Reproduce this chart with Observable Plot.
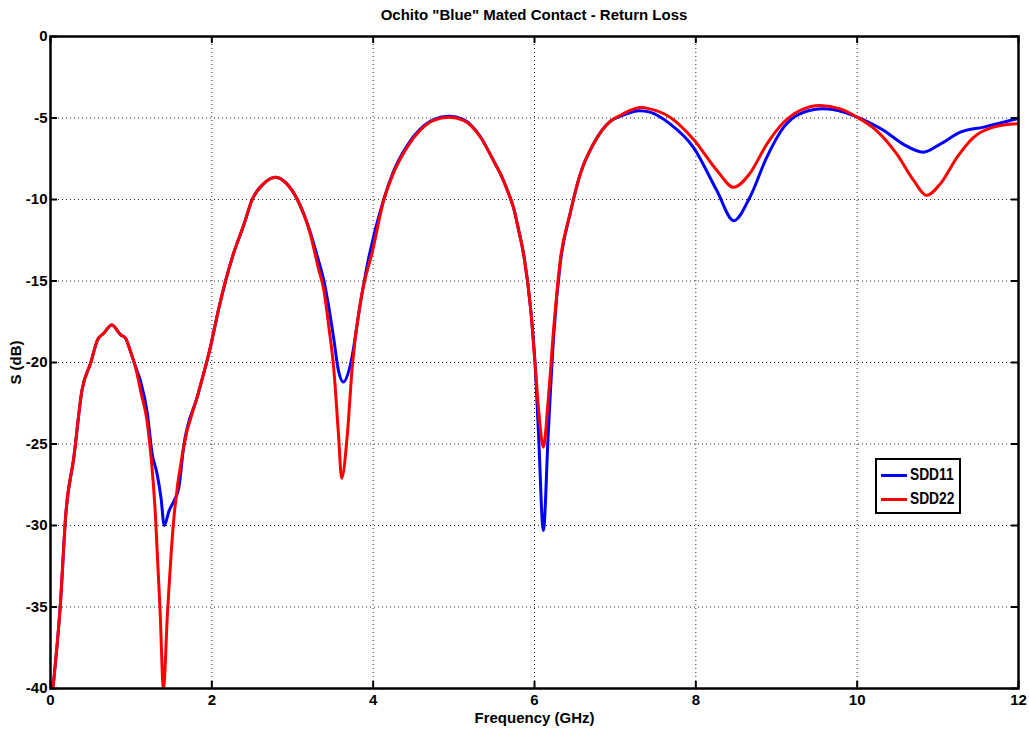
<!DOCTYPE html>
<html>
<head>
<meta charset="utf-8">
<script src="https://cdn.jsdelivr.net/npm/d3@7"></script>
<script src="https://cdn.jsdelivr.net/npm/@observablehq/plot@0.6"></script>
<style>
  html, body { margin: 0; padding: 0; background: #fff; }
  #wrap { position: relative; width: 1029px; height: 736px; font-family: "Liberation Sans", Arial, sans-serif; }
  #title { height: 28px; line-height: 30px; width: 968px; margin-left: 50px; text-align: center; font-weight: bold; font-size: 15px; color: #000; }
  #legend { position: absolute; left: 875px; top: 458px; width: 82px; height: 52px; border: 2px solid #000; background: #fff; box-sizing: content-box; font-weight: bold; font-size: 16px; }
  .row { position: absolute; left: 4px; height: 20px; display: flex; align-items: center; }
  .sw { width: 26px; height: 3px; margin-right: 3px; }
  .lt { display: inline-block; transform: scaleX(0.86); transform-origin: left center; }
</style>
</head>
<body>
<div id="wrap">
  <div id="title">Ochito "Blue" Mated Contact - Return Loss</div>
  <div id="chart"></div>
  <div id="legend"></div>
</div>
<script>
// ---- data ----
const seriesNames = ["SDD11", "SDD22"];
const seriesColors = ["#0000ff", "#ff0000"];

const freq11 = [0.03,0.12,0.19,0.29,0.39,0.50,0.58,0.66,0.76,0.87,0.93,0.99,1.05,1.12,1.20,1.26,1.32,1.37,1.41,1.47,1.53,1.59,1.65,1.82,1.98,2.09,2.17,2.27,2.40,2.50,2.64,2.79,2.93,3.06,3.22,3.32,3.39,3.45,3.51,3.57,3.63,3.72,3.84,3.94,4.13,4.25,4.42,4.58,4.75,4.94,5.12,5.33,5.49,5.58,5.68,5.74,5.80,5.87,5.95,6.01,6.05,6.11,6.17,6.24,6.32,6.44,6.57,6.73,6.94,7.06,7.20,7.30,7.43,7.68,7.97,8.26,8.47,8.67,8.88,9.09,9.29,9.58,9.83,10.00,10.33,10.57,10.82,11.03,11.28,11.57,11.98];
const sdd11 = [-40,-35,-29.3,-25.8,-21.7,-20.0,-18.65,-18.2,-17.7,-18.3,-18.5,-19.3,-20.2,-21.2,-23.1,-25.6,-26.8,-28.3,-30.0,-29.1,-28.5,-27.7,-25.2,-22.1,-19.1,-16.6,-15.0,-13.3,-11.5,-10.0,-9.04,-8.63,-9.04,-10.0,-12.0,-13.7,-15.0,-16.6,-18.5,-20.5,-21.2,-20.1,-16.4,-13.7,-10.0,-8.3,-6.7,-5.7,-5.1,-4.9,-5.1,-6.15,-7.6,-8.45,-9.65,-10.5,-11.8,-13.5,-16.6,-20.3,-24.4,-30.3,-24.4,-18.2,-13.9,-10.9,-8.4,-6.6,-5.2,-4.9,-4.65,-4.55,-4.64,-5.36,-6.8,-9.45,-11.3,-9.86,-7.4,-5.56,-4.74,-4.44,-4.64,-4.95,-5.77,-6.6,-7.1,-6.6,-5.87,-5.56,-5.05];

const freq22 = [0.03,0.12,0.19,0.29,0.39,0.50,0.58,0.66,0.76,0.87,0.93,0.99,1.05,1.12,1.20,1.30,1.36,1.40,1.45,1.52,1.65,1.82,1.98,2.09,2.17,2.27,2.40,2.50,2.64,2.79,2.93,3.06,3.22,3.32,3.39,3.45,3.51,3.57,3.61,3.68,3.74,3.86,3.99,4.13,4.25,4.42,4.58,4.75,4.94,5.12,5.33,5.49,5.58,5.68,5.74,5.80,5.87,5.95,6.01,6.06,6.11,6.17,6.24,6.32,6.44,6.57,6.73,6.94,7.06,7.20,7.31,7.43,7.68,7.97,8.26,8.47,8.67,8.88,9.09,9.29,9.54,9.79,10.00,10.24,10.49,10.70,10.86,11.03,11.24,11.44,11.69,11.98];
const sdd22 = [-40,-35,-29.3,-25.8,-21.7,-20.0,-18.65,-18.2,-17.7,-18.3,-18.5,-19.3,-20.2,-21.8,-23.7,-29.3,-35.4,-40,-35.4,-30.1,-25.2,-22.1,-19.1,-16.6,-15.0,-13.3,-11.5,-10.0,-9.04,-8.63,-9.04,-10.0,-12.1,-14.2,-15.6,-17.8,-20.3,-24.4,-27.1,-24.4,-20.3,-15.8,-13.2,-10.06,-8.4,-6.8,-5.77,-5.15,-4.95,-5.15,-6.18,-7.6,-8.45,-9.65,-10.5,-11.8,-13.5,-16.6,-20.3,-23.4,-25.2,-22.3,-17.8,-13.7,-10.9,-8.4,-6.6,-5.2,-4.85,-4.5,-4.36,-4.44,-4.95,-6.3,-8.2,-9.25,-8.4,-6.6,-5.26,-4.54,-4.23,-4.44,-4.95,-5.77,-7.2,-8.83,-9.75,-9.04,-7.4,-6.2,-5.56,-5.36];

const xTicks = [0, 2, 4, 6, 8, 10, 12];
const yTicks = [0, -5, -10, -15, -20, -25, -30, -35, -40];

// ---- build table ----
const rows = [];
freq11.forEach((f, i) => rows.push({ f, s: sdd11[i], series: seriesNames[0] }));
freq22.forEach((f, i) => rows.push({ f, s: sdd22[i], series: seriesNames[1] }));

const W = 1029, H = 708;
const mT = 8, mB = 48, mL = 50, mR = 11;
const plotW = W - mL - mR, plotH = H - mT - mB;
const tickLen = 7;

const chart = Plot.plot({
  width: W,
  height: H,
  marginTop: mT,
  marginBottom: mB,
  marginLeft: mL,
  marginRight: mR,
  style: { fontFamily: '"Liberation Sans", Arial, sans-serif', fontSize: "15px", fontWeight: "bold", color: "#000", background: "#fff" },
  x: { domain: [0, 12] },
  y: { domain: [-40, 0] },
  color: { domain: seriesNames, range: seriesColors },
  marks: [
    Plot.gridX(xTicks.slice(1, -1), { stroke: "#000", strokeOpacity: 0.85, strokeDasharray: "1,3", strokeWidth: 1 }),
    Plot.gridY(yTicks.slice(1, -1), { stroke: "#000", strokeOpacity: 0.85, strokeDasharray: "1,3", strokeWidth: 1 }),
    Plot.line(rows, { x: "f", y: "s", z: "series", stroke: "series", strokeWidth: 3, curve: "monotone-x", clip: true }),
    Plot.tickX(xTicks, { x: d => d, stroke: "#000", strokeWidth: 2, insetTop: plotH - tickLen }),
    Plot.tickX(xTicks, { x: d => d, stroke: "#000", strokeWidth: 2, insetBottom: plotH - tickLen }),
    Plot.tickY(yTicks, { y: d => d, stroke: "#000", strokeWidth: 2, insetRight: plotW - tickLen }),
    Plot.tickY(yTicks, { y: d => d, stroke: "#000", strokeWidth: 2, insetLeft: plotW - tickLen }),
    Plot.frame({ stroke: "#000", strokeWidth: 2.5 }),
    Plot.axisX(xTicks, { tickSize: 0, tickPadding: 6, tickFormat: d => String(d), label: "Frequency (GHz)", labelAnchor: "center", labelArrow: "none", labelOffset: 34 }),
    Plot.axisY(yTicks, { tickSize: 0, tickPadding: 3, tickFormat: d => String(d), label: "S (dB)", labelAnchor: "center", labelArrow: "none", labelOffset: 40 })
  ]
});
document.getElementById("chart").appendChild(chart);

// ---- legend ----
const legend = document.getElementById("legend");
seriesNames.forEach((name, i) => {
  const row = document.createElement("div");
  row.className = "row";
  row.style.top = (5 + i * 24) + "px";
  const sw = document.createElement("div");
  sw.className = "sw";
  sw.style.background = seriesColors[i];
  const t = document.createElement("span");
  t.className = "lt";
  t.textContent = name;
  row.appendChild(sw);
  row.appendChild(t);
  legend.appendChild(row);
});
</script>
</body>
</html>
